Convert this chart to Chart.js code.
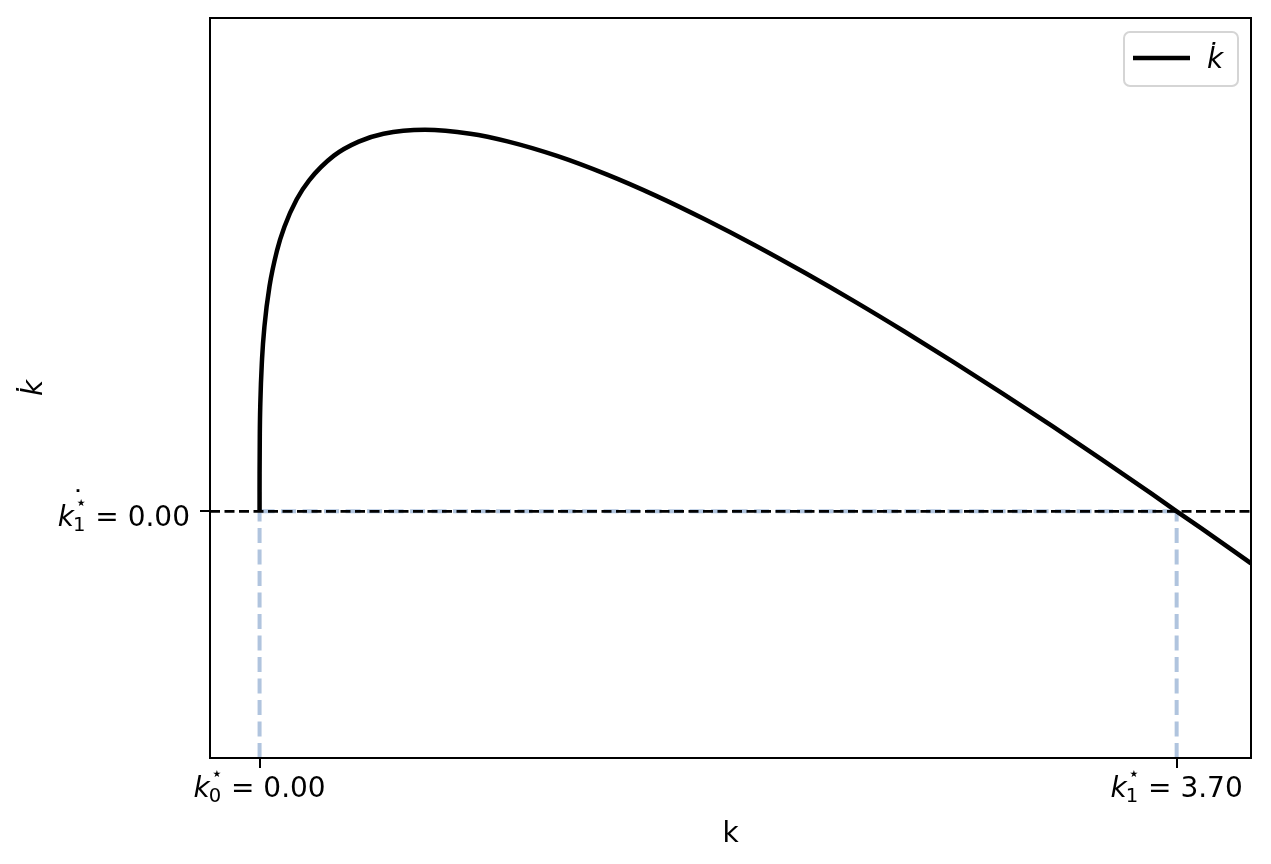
<!DOCTYPE html>
<html>
<head>
<meta charset="utf-8">
<script src="https://cdn.jsdelivr.net/npm/chart.js@4.4.0/dist/chart.umd.min.js"></script>
<style>
  html, body { margin: 0; padding: 0; background: #fff; }
  #wrap { width: 1271px; height: 864px; }
</style>
</head>
<body>
<div id="wrap"><canvas id="chart"></canvas></div>
<script>
// capital stock k and its change k-dot
const capital = [0, 0.00001, 0.0001, 0.001, 0.003, 0.01, 0.02, 0.04, 0.07, 0.1, 0.15, 0.2, 0.3, 0.4, 0.5, 0.667, 0.85, 1.0,
  1.2, 1.4, 1.6, 1.8, 2.0, 2.2, 2.4, 2.6, 2.8, 3.0, 3.2, 3.4, 3.6, 3.7, 3.8, 4.0];
const capitalChange = [0, 0.0079, 0.0158, 0.0314, 0.0435, 0.0618, 0.0753, 0.0912, 0.1056, 0.1153, 0.1265, 0.1342, 0.1442, 0.1499, 0.1531, 0.1547, 0.1531, 0.1500,
  0.1441, 0.1366, 0.1279, 0.1182, 0.1078, 0.0967, 0.0851, 0.0730, 0.0605, 0.0476, 0.0344, 0.0209, 0.0071, 0.0000, -0.0069, -0.0211];

// steady states and ticks
const steadyStates = [0, 3.70];
const xTickValues = [0, 3.70];
const xTickSubs = ['0', '1'];
const xTickNumbers = ['0.00', '3.70'];
const yTickValues = [0];
const yTickSubs = ['1'];
const yTickNumbers = ['0.00'];

const xMin = -0.2, xMax = 4.0;
const yMin = -0.1, yMax = 0.2;

const KDOT = 'k\u0307';

function toPoints(xs, ys) {
  return xs.map((x, i) => ({ x: x, y: ys[i] }));
}

function drawStarLabel(ctx, x, baseline, align, sub, number, dotted) {
  const bigIt = 'italic 28px "DejaVu Sans"';
  const big = '28px "DejaVu Sans"';
  const small = '19.6px "DejaVu Sans"';

  ctx.font = bigIt;
  const kW = ctx.measureText('k').width;
  ctx.font = small;
  const subW = ctx.measureText(sub).width;
  const starW = ctx.measureText('\u22c6').width;
  ctx.font = big;
  const numText = '= ' + number;
  const numW = ctx.measureText(numText).width;
  const stackW = Math.max(subW, starW + 1);
  const gap = 8;
  const total = kW + stackW + gap + numW;

  let x0 = align === 'center' ? x - total / 2 : x - total;

  ctx.save();
  ctx.fillStyle = '#000';
  ctx.textAlign = 'left';
  ctx.textBaseline = 'alphabetic';
  ctx.font = bigIt;
  ctx.fillText('k', x0, baseline);
  ctx.font = small;
  ctx.fillText(sub, x0 + kW - 1, baseline + 5);
  ctx.fillText('\u22c6', x0 + kW + 1, baseline - 17);
  if (dotted) {
    ctx.font = big;
    ctx.fillText('\u02d9', x0 + kW - 3, baseline - 15);
  }
  ctx.font = big;
  ctx.fillText(numText, x0 + kW + stackW + gap, baseline);
  ctx.restore();
}

const framePlugin = {
  id: 'frame',
  afterDraw(chart) {
    const { ctx, chartArea } = chart;
    const xs = chart.scales.x;
    const ys = chart.scales.y;

    ctx.save();
    ctx.strokeStyle = '#000';
    ctx.lineWidth = 2;
    ctx.strokeRect(chartArea.left, chartArea.top, chartArea.right - chartArea.left, chartArea.bottom - chartArea.top);
    ctx.restore();

    xTickValues.forEach((v, i) => {
      drawStarLabel(ctx, xs.getPixelForValue(v), chartArea.bottom + 39, 'center', xTickSubs[i], xTickNumbers[i], false);
    });
    yTickValues.forEach((v, i) => {
      drawStarLabel(ctx, chartArea.left - 20, ys.getPixelForValue(v) + 15, 'right', yTickSubs[i], yTickNumbers[i], true);
    });

    // legend box
    const lx = chartArea.right - 127, ly = chartArea.top + 14;
    ctx.save();
    ctx.fillStyle = 'rgba(255,255,255,0.8)';
    ctx.strokeStyle = '#d5d5d5';
    ctx.lineWidth = 2;
    ctx.beginPath();
    ctx.roundRect(lx, ly, 114, 54, 6);
    ctx.fill();
    ctx.stroke();
    ctx.strokeStyle = '#000';
    ctx.lineWidth = 4.5;
    ctx.beginPath();
    ctx.moveTo(lx + 9, ly + 26);
    ctx.lineTo(lx + 66, ly + 26);
    ctx.stroke();
    ctx.fillStyle = '#000';
    ctx.font = 'italic 28px "DejaVu Sans"';
    ctx.textBaseline = 'alphabetic';
    ctx.fillText(KDOT, lx + 83, ly + 36);
    ctx.restore();
  }
};

const ctx = document.getElementById('chart');

new Chart(ctx, {
  type: 'line',
  data: {
    datasets: [
      {
        label: 'zero',
        data: toPoints([xMin, xMax], [0, 0]),
        borderColor: '#000',
        borderWidth: 2.8,
        borderDash: [10, 4.5],
        pointRadius: 0,
        order: 0
      },
      {
        label: KDOT,
        data: toPoints(capital, capitalChange),
        borderColor: '#000',
        borderWidth: 4.5,
        pointRadius: 0,
        cubicInterpolationMode: 'monotone',
        order: 1
      },
      {
        label: 'steady-h',
        data: toPoints(steadyStates, [0, 0]),
        borderColor: '#b0c4de',
        borderWidth: 4,
        borderDash: [15, 6.5],
        pointRadius: 0,
        order: 2
      },
      {
        label: 'steady-v0',
        data: toPoints([steadyStates[0], steadyStates[0]], [yMin, 0]),
        borderColor: '#b0c4de',
        borderWidth: 4,
        borderDash: [15, 6.5],
        pointRadius: 0,
        order: 2
      },
      {
        label: 'steady-v1',
        data: toPoints([steadyStates[1], steadyStates[1]], [yMin, 0]),
        borderColor: '#b0c4de',
        borderWidth: 4,
        borderDash: [15, 6.5],
        pointRadius: 0,
        order: 2
      }
    ]
  },
  options: {
    responsive: true,
    maintainAspectRatio: false,
    animation: false,
    layout: { padding: { top: 18, right: 20, left: 0, bottom: 0 } },
    plugins: {
      legend: { display: false },
      tooltip: { enabled: false }
    },
    scales: {
      x: {
        type: 'linear',
        min: xMin,
        max: xMax,
        afterBuildTicks: (scale) => { scale.ticks = xTickValues.map(v => ({ value: v })); },
        afterFit: (scale) => { scale.height = 106; },
        ticks: { display: false },
        grid: { drawOnChartArea: false, drawTicks: true, tickLength: 10, color: '#000', lineWidth: 2 },
        border: { display: true, color: '#000', width: 2 },
        title: {
          display: true,
          text: 'k',
          color: '#000',
          font: { family: 'DejaVu Sans', size: 28 },
          padding: { top: 0, bottom: 12 }
        }
      },
      y: {
        min: yMin,
        max: yMax,
        afterBuildTicks: (scale) => { scale.ticks = yTickValues.map(v => ({ value: v })); },
        afterFit: (scale) => { scale.width = 210; },
        ticks: { display: false },
        grid: { drawOnChartArea: false, drawTicks: true, tickLength: 10, color: '#000', lineWidth: 2 },
        border: { display: true, color: '#000', width: 2 },
        title: {
          display: true,
          text: KDOT,
          color: '#000',
          font: { family: 'DejaVu Sans', size: 28, style: 'italic' },
          padding: { top: 18, bottom: 0 }
        }
      }
    }
  },
  plugins: [framePlugin]
});
</script>
</body>
</html>
